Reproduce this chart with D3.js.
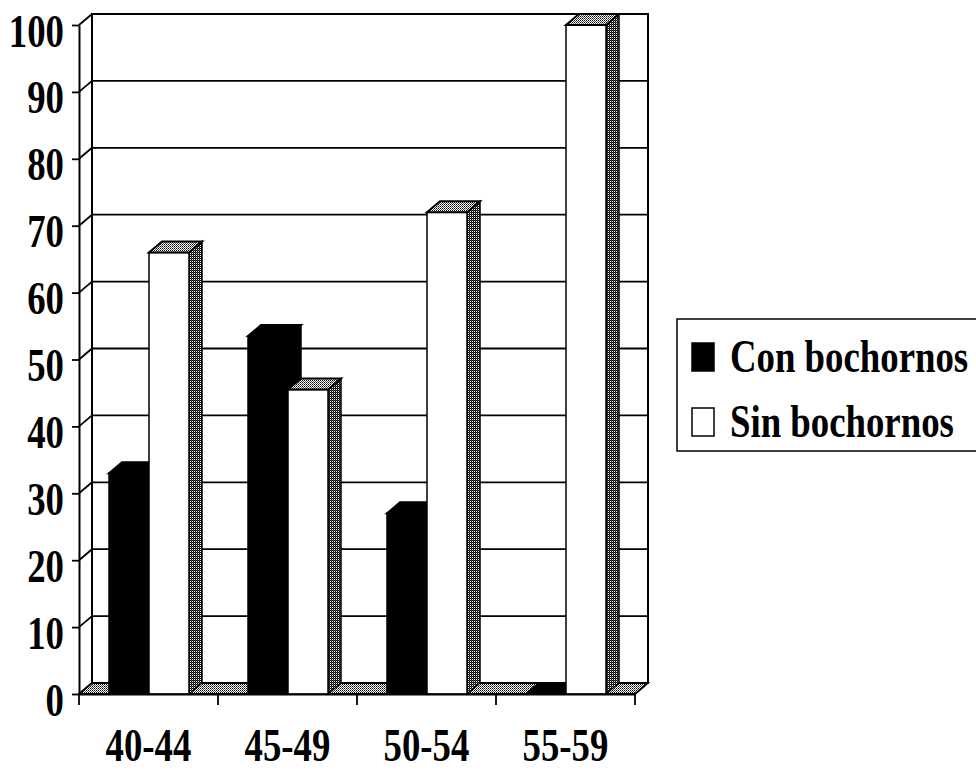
<!DOCTYPE html>
<html>
<head>
<meta charset="utf-8">
<script src="https://cdn.jsdelivr.net/npm/d3@7/dist/d3.min.js"></script>
<style>
  html, body { margin: 0; padding: 0; background: #fff; }
  svg { display: block; }
  text { font-family: "Liberation Serif", "Times New Roman", serif; font-weight: bold; fill: #000; }
</style>
</head>
<body>
<svg id="chart" width="976" height="770"></svg>
<script>
// Age groups and percentage of women with / without hot flushes
const categories = ["40-44", "45-49", "50-54", "55-59"];
const seriesNames = ["Con bochornos", "Sin bochornos"];
const conBochornos = [33, 53.5, 27, 0];
const sinBochornos = [66, 45.5, 72, 100];
const yTicks = [0, 10, 20, 30, 40, 50, 60, 70, 80, 90, 100];

const W = 976, H = 770;
const DX = 13, DY = -11;          // oblique depth offset of the 3D box
const FONT = 46, SQUEEZE = 0.8;   // condensed bold serif lettering

const svg = d3.select("#chart");
svg.append("rect").attr("width", W).attr("height", H).attr("fill", "#fff");

// halftone fills
const defs = svg.append("defs");
function halftone(id, dots) {
  const p = defs.append("pattern").attr("id", id)
    .attr("patternUnits", "userSpaceOnUse").attr("width", 2).attr("height", 2);
  p.append("rect").attr("width", 2).attr("height", 2).attr("fill", "#fff");
  dots.forEach(d => p.append("rect").attr("x", d[0]).attr("y", d[1])
    .attr("width", 1).attr("height", 1).attr("fill", d[2]));
}
halftone("htLight", [[0, 0, "#000"], [1, 1, "#555"]]);
halftone("htDark", [[0, 0, "#000"], [1, 1, "#000"], [1, 0, "#444"]]);

const yF = d3.scaleLinear().domain([0, 100]).range([694, 25]);
const yB = v => yF(v) + DY;
const x0 = d3.scaleBand().domain(categories).range([79, 635]).padding(0);
const x1 = d3.scaleBand().domain(seriesNames).range([30, 110]).padding(0);

const xL = x0.range()[0], xR = x0.range()[1];

// back wall
svg.append("rect")
  .attr("x", xL + DX).attr("y", yB(100))
  .attr("width", xR - xL).attr("height", yB(0) - yB(100))
  .attr("fill", "#fff").attr("stroke", "#000").attr("stroke-width", 2);

// gridlines on the back wall
svg.append("g").selectAll("line").data(yTicks).join("line")
  .attr("x1", xL + DX).attr("x2", xR + DX)
  .attr("y1", d => yB(d)).attr("y2", d => yB(d))
  .attr("stroke", "#000").attr("stroke-width", 1.8);

// side wall: diagonals from the value axis to the back wall
svg.append("g").selectAll("line").data(yTicks).join("line")
  .attr("x1", xL).attr("y1", d => yF(d))
  .attr("x2", xL + DX).attr("y2", d => yB(d))
  .attr("stroke", "#000").attr("stroke-width", 1.8);

// floor
const pts = a => a.map(p => p.join(",")).join(" ");
svg.append("polygon")
  .attr("points", pts([[xL, yF(0)], [xR, yF(0)], [xR + DX, yB(0)], [xL + DX, yB(0)]]))
  .attr("fill", "url(#htLight)").attr("stroke", "#000").attr("stroke-width", 1.8);

// bars
const rows = categories.map((c, i) => ({ cat: c, values: [conBochornos[i], sinBochornos[i]] }));
const barW = x1.bandwidth();

rows.forEach(r => {
  r.values.forEach((v, si) => {
    const name = seriesNames[si];
    const x = x0(r.cat) + x1(name);
    const yt = yF(v), yb = yF(0);
    const dark = si === 0;
    const g = svg.append("g");
    // right side face
    g.append("polygon")
      .attr("points", pts([[x + barW, yt], [x + barW + DX, yt + DY], [x + barW + DX, yb + DY], [x + barW, yb]]))
      .attr("fill", dark ? "#000" : "url(#htDark)").attr("stroke", "#000").attr("stroke-width", 1.5);
    // front face
    if (v > 0) {
      g.append("rect").attr("x", x).attr("y", yt).attr("width", barW).attr("height", yb - yt)
        .attr("fill", dark ? "#000" : "#fff").attr("stroke", "#000").attr("stroke-width", 1.5);
    }
    // top face
    g.append("polygon")
      .attr("points", pts([[x, yt], [x + barW, yt], [x + barW + DX, yt + DY], [x + DX, yt + DY]]))
      .attr("fill", dark ? "#000" : "url(#htLight)").attr("stroke", "#000").attr("stroke-width", 2);
  });
});

// value axis
const yAxis = svg.append("g").attr("transform", `translate(${xL},0)`)
  .call(d3.axisLeft(yF).tickValues(yTicks).tickSize(7).tickSizeOuter(0).tickPadding(15));
yAxis.select(".domain").attr("stroke-width", 2);
yAxis.selectAll(".tick line").attr("stroke-width", 1.8);
yAxis.selectAll(".tick text")
  .attr("font-size", FONT).attr("font-family", null)
  .attr("dy", null).attr("y", 21)
  .attr("x", -15 / SQUEEZE)
  .attr("transform", `scale(${SQUEEZE},1)`);

// category axis (labels centred on each band)
const xAxis = svg.append("g").attr("transform", `translate(0,${yF(0)})`)
  .call(d3.axisBottom(x0).tickSize(0).tickPadding(40));
xAxis.select(".domain").attr("stroke-width", 2);
xAxis.selectAll(".tick text")
  .attr("font-size", FONT).attr("font-family", null)
  .attr("dy", null).attr("y", 67)
  .attr("transform", `scale(${SQUEEZE},1)`);

// tick marks at the category boundaries
const bounds = categories.map(c => x0(c)).concat([xR]);
svg.append("g").selectAll("line").data(bounds).join("line")
  .attr("x1", d => d).attr("x2", d => d)
  .attr("y1", yF(0)).attr("y2", yF(0) + 11)
  .attr("stroke", "#000").attr("stroke-width", 1.8);

// legend
const lg = svg.append("g");
lg.append("rect").attr("x", 677).attr("y", 319).attr("width", 330).attr("height", 132)
  .attr("fill", "none").attr("stroke", "#000").attr("stroke-width", 1.5);
const legendRows = [
  { name: seriesNames[0], fill: "#000", y: 372 },
  { name: seriesNames[1], fill: "#fff", y: 437 }
];
legendRows.forEach(d => {
  lg.append("rect").attr("x", 692).attr("y", d.y - 29).attr("width", 22).attr("height", 28)
    .attr("fill", d.fill).attr("stroke", "#000").attr("stroke-width", 1.5);
  lg.append("text").attr("transform", `translate(730,${d.y}) scale(${SQUEEZE},1)`)
    .attr("font-size", FONT).text(d.name);
});
</script>
</body>
</html>
